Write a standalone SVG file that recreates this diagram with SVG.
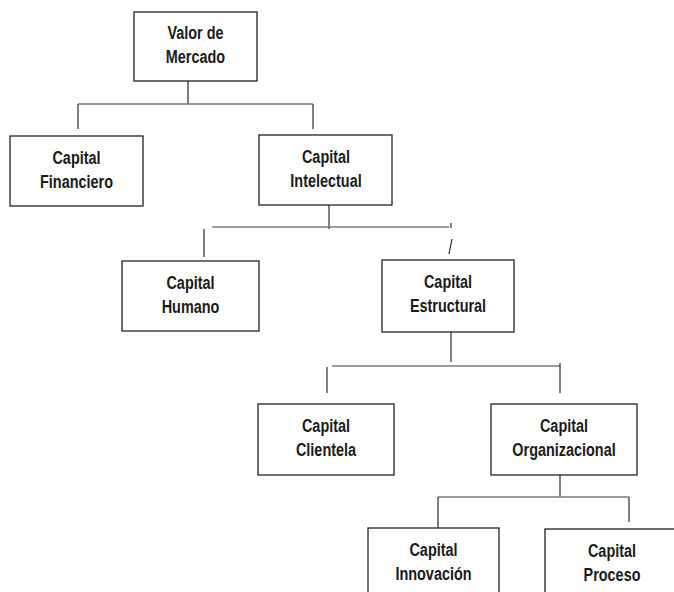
<svg xmlns="http://www.w3.org/2000/svg" width="674" height="592" viewBox="0 0 674 592">
<style>
.box{fill:#fff;stroke:#222;stroke-width:1.3}
.t{font-family:"Liberation Sans",Arial,sans-serif;font-weight:bold;font-size:19px;fill:#1a1a1a;text-anchor:middle}
.h{stroke:#7a7a7a;stroke-width:1.5;fill:none}
.v{stroke:#2a2a2a;stroke-width:1.2;fill:none}
</style>
<rect width="674" height="592" fill="#fff"/>
<g id="connectors">
<path class="v" d="M188 81V104"/>
<path class="h" d="M78 104H313"/>
<path class="v" d="M78 104V129M313 104V129"/>
<path class="v" d="M329 205V229"/>
<path class="h" d="M212 227H449"/>
<path class="v" d="M204 229V257M451 223V228M452 239L449 254"/>
<path class="v" d="M451 332V362"/>
<path class="h" d="M332 366H560"/>
<path class="v" d="M327 367V393M560 363V393"/>
<path class="v" d="M560 475V497"/>
<path class="h" d="M438 497H629"/>
<path class="v" d="M438 497V528M629 497V522"/>
</g>
<g id="valor">
<rect class="box" x="134" y="12" width="123" height="69"/>
<text class="t" transform="translate(195.5 39) scale(0.76 1)">Valor de</text>
<text class="t" transform="translate(195.5 63) scale(0.76 1)">Mercado</text>
</g>
<g id="financiero">
<rect class="box" x="10" y="136" width="133" height="70"/>
<text class="t" transform="translate(76.5 163.5) scale(0.76 1)">Capital</text>
<text class="t" transform="translate(76.5 187.5) scale(0.76 1)">Financiero</text>
</g>
<g id="intelectual">
<rect class="box" x="259" y="135" width="133" height="70"/>
<text class="t" transform="translate(326 162.5) scale(0.76 1)">Capital</text>
<text class="t" transform="translate(326 186.5) scale(0.76 1)">Intelectual</text>
</g>
<g id="humano">
<rect class="box" x="122" y="261" width="137" height="70"/>
<text class="t" transform="translate(190.5 288.5) scale(0.76 1)">Capital</text>
<text class="t" transform="translate(190.5 312.5) scale(0.76 1)">Humano</text>
</g>
<g id="estructural">
<rect class="box" x="382" y="260" width="132" height="72"/>
<text class="t" transform="translate(448 287.5) scale(0.76 1)">Capital</text>
<text class="t" transform="translate(448 311.5) scale(0.76 1)">Estructural</text>
</g>
<g id="clientela">
<rect class="box" x="258" y="404" width="136" height="71"/>
<text class="t" transform="translate(326 431.5) scale(0.76 1)">Capital</text>
<text class="t" transform="translate(326 455.5) scale(0.76 1)">Clientela</text>
</g>
<g id="organizacional">
<rect class="box" x="491" y="404" width="146" height="71"/>
<text class="t" transform="translate(564 431.5) scale(0.76 1)">Capital</text>
<text class="t" transform="translate(564 455.5) scale(0.76 1)">Organizacional</text>
</g>
<g id="innovacion">
<rect class="box" x="368" y="528" width="131" height="80"/>
<text class="t" transform="translate(433.5 555.5) scale(0.76 1)">Capital</text>
<text class="t" transform="translate(433.5 579.5) scale(0.76 1)">Innovación</text>
</g>
<g id="proceso">
<rect class="box" x="545" y="529" width="140" height="80"/>
<text class="t" transform="translate(612 556.5) scale(0.76 1)">Capital</text>
<text class="t" transform="translate(612 580.5) scale(0.76 1)">Proceso</text>
</g>
</svg>
